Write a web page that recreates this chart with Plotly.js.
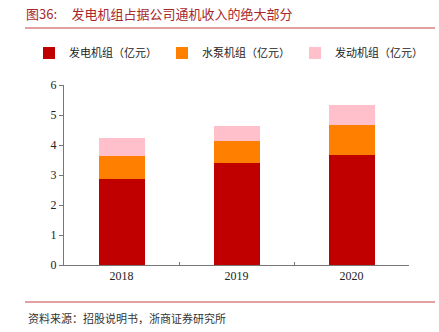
<!DOCTYPE html>
<html><head><meta charset="utf-8">
<script src="https://cdn.plot.ly/plotly-3.0.1.min.js"></script>
<style>html,body{margin:0;padding:0;background:#fff}#c{width:439px;height:332px}</style>
</head><body><div id="c"></div>
<script>
var years = ['2018', '2019', '2020'];
var generator = [2.87, 3.39, 3.68];
var pump = [0.76, 0.75, 0.99];
var engine = [0.60, 0.49, 0.66];
var names = ['发电机组（亿元）', '水泵机组（亿元）', '发动机组（亿元）'];
var colors = ['#C00000', '#FF8000', '#FFC0CB'];
var yTicks = [0, 1, 2, 3, 4, 5, 6];

var cjk = '"Noto Sans CJK SC", sans-serif';
var serif = '"Liberation Serif", "Times New Roman", serif';

var series = [generator, pump, engine];
var data = series.map(function (vals, i) {
  return {type: 'bar', x: years, y: vals, name: names[i],
    marker: {color: colors[i], line: {width: 0}}, width: 0.4, hoverinfo: 'skip'};
});

var px = function (p) { return (265 - p) / 180; };
var pxx = function (p) { return (p - 64) / 345; };

var layout = {
  width: 439, height: 332,
  margin: {l: 64, r: 30, t: 85, b: 67},
  barmode: 'stack',
  paper_bgcolor: '#fff', plot_bgcolor: '#fff',
  showlegend: true,
  legend: {orientation: 'h', x: pxx(29), xanchor: 'left',
    y: px(53), yanchor: 'middle',
    font: {family: cjk, size: 11, color: '#222'}, traceorder: 'normal',
    itemwidth: 30, tracegroupgap: 0, itemclick: false},
  title: {text: '图36:     发电机组占据公司通机收入的绝大部分', xref: 'container', yref: 'container',
    x: 26 / 439, xanchor: 'left', y: 1 - 14 / 332, yanchor: 'middle',
    font: {family: cjk, size: 13, color: '#A8282C'}},
  xaxis: {type: 'category', showline: true, linecolor: '#777', linewidth: 1,
    ticks: 'inside', tickson: 'boundaries', ticklen: 3, tickcolor: '#777',
    tickfont: {family: serif, size: 12, color: '#222'}, showgrid: false, zeroline: false,
    fixedrange: true},
  yaxis: {range: [0, 6], tickvals: yTicks, showline: true, linecolor: '#777', linewidth: 1,
    ticks: 'outside', ticklen: 4, tickcolor: '#777', showgrid: false, zeroline: false,
    tickfont: {family: serif, size: 12, color: '#222'}, fixedrange: true},
  shapes: [
    {type: 'line', xref: 'paper', yref: 'paper', x0: pxx(25), x1: pxx(435), y0: px(28), y1: px(28),
      line: {color: '#D98080', width: 1.5}},
    {type: 'line', xref: 'paper', yref: 'paper', x0: pxx(25), x1: pxx(435), y0: px(302), y1: px(302),
      line: {color: '#D98080', width: 1.5}}
  ],
  annotations: [
    {text: '资料来源：招股说明书，浙商证券研究所', xref: 'paper', yref: 'paper',
      x: pxx(26), xanchor: 'left', y: px(318), yanchor: 'middle', showarrow: false,
      font: {family: cjk, size: 11, color: '#333'}}
  ]
};
Plotly.newPlot('c', data, layout, {displayModeBar: false, staticPlot: true});
</script></body></html>
